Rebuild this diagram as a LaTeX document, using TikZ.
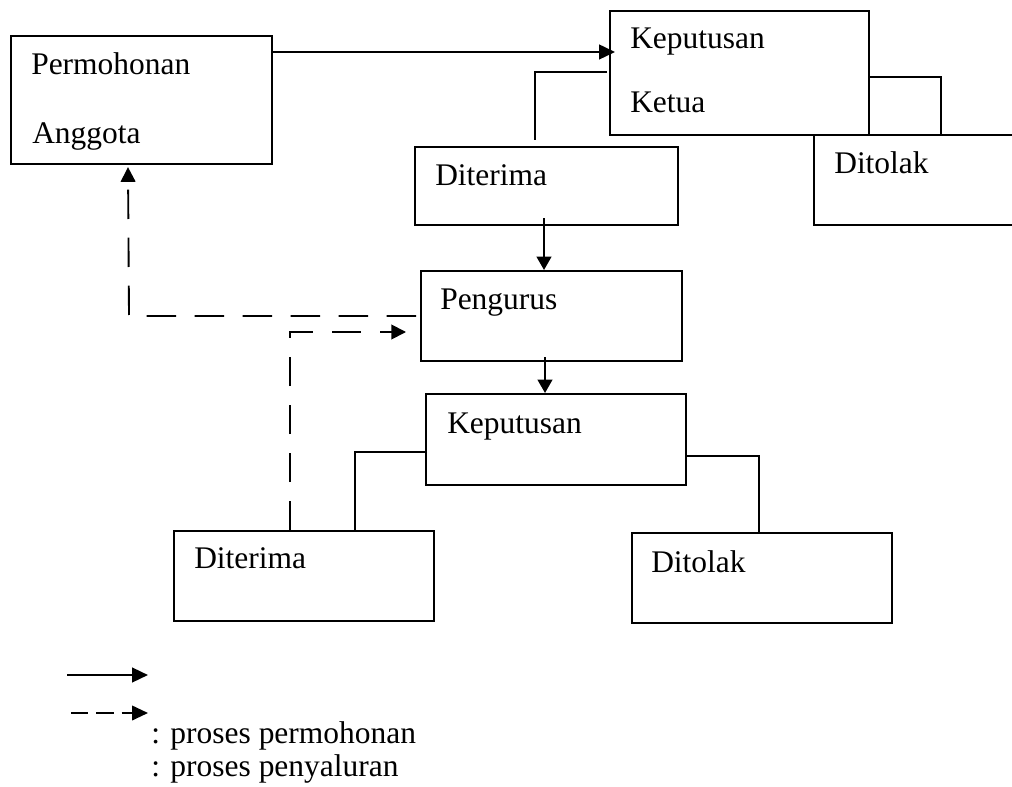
\documentclass[tikz,border=0pt]{standalone}
\usepackage{fontspec}
\setmainfont{Liberation Serif}
\usetikzlibrary{arrows.meta,calc}

\begin{document}
\begin{tikzpicture}[
  x=0.75pt, y=-0.75pt,
  box/.style={draw, line width=1.6pt, inner sep=0pt, anchor=north west},
  lbl/.style={anchor=base west, inner sep=0pt, font=\fontsize{23.6pt}{28pt}\selectfont},
  link/.style={line width=1.3pt},
  flow/.style={line width=1.5pt, -{Triangle[length=10pt,width=11pt]}},
  mainflow/.style={line width=1.9pt, -{Triangle[length=12pt,width=11pt]}},
  backflow/.style={line width=1.4pt, dash pattern=on 22pt off 14pt, -{Triangle[length=11pt,width=11pt]}}
]
\useasboundingbox (0,0) rectangle (1012,787);

% boxes
\node[box, minimum width=195.75pt, minimum height=96pt]   (A) at (10,35)  {};
\node[box, minimum width=194.25pt, minimum height=93pt]   (B) at (609,10) {};
\node[box, minimum width=197.25pt, minimum height=58.5pt] (C) at (414,146) {};
\node[box, minimum width=187.5pt,  minimum height=67.5pt] (D) at (813,134) {};
\node[box, minimum width=195.75pt, minimum height=67.5pt] (E) at (420,270) {};
\node[box, minimum width=195pt,    minimum height=68.25pt] (F) at (425,393) {};
\node[box, minimum width=195pt,    minimum height=67.5pt] (G) at (173,530) {};
\node[box, minimum width=195pt,    minimum height=67.5pt] (H) at (631,532) {};

% box texts
\node[lbl] (tA1) at (31,75)   {Permohonan};
\node[lbl] (tA2) at (32,144)  {Anggota};
\node[lbl] (tB1) at (630,49)  {Keputusan};
\node[lbl] (tB2) at (630,113) {Ketua};
\node[lbl] (tC)  at (435,186) {Diterima};
\node[lbl] (tD)  at (834,174) {Ditolak};
\node[lbl] (tE)  at (440,310) {Pengurus};
\node[lbl] (tF)  at (447,433) {Keputusan};
\node[lbl] (tG)  at (194,568) {Diterima};
\node[lbl] (tH)  at (651,572) {Ditolak};

% request to chairman
\draw[mainflow] ($(A.north east)+(0,17)$) -- ($(B.north west)+(6,42)$);

% chairman decision branches
\draw[link] ($(B.north west)+(-2,62)$) -| ($(C.north west)+(121,-6)$);
\draw[link] ($(B.north east)+(0,67)$) -| ($(D.north west)+(128,0)$);

% accepted -> board -> decision
\draw[flow] ($(C.south west)+(130,-8)$) -- ($(E.north west)+(124,0)$);
\draw[flow] ($(E.south west)+(125,-5)$) -- ($(F.north west)+(120,0)$);

% board decision branches
\draw[link] ($(F.north west)+(2,59)$) -| ($(G.north west)+(182,0)$);
\draw[link] ($(F.north east)+(0,63)$) -| ($(H.north west)+(128,0)$);

% distribution flows
\draw[backflow] ($(E.north west)+(-4,46)$) -- (129,316) -- ($(A.south west)+(118,2)$);
\draw[backflow] ($(G.north west)+(117,0)$) |- ($(E.north west)+(-14,62)$);

% legend
\coordinate (l1s) at (67,675);
\coordinate (l1e) at (148,675);
\coordinate (l2s) at (71,713);
\coordinate (l2e) at (148,713);
\draw[line width=1.8pt, -{Triangle[length=12pt,width=11pt]}] (l1s) -- (l1e);
\draw[line width=1.4pt, dash pattern=on 13pt off 6pt, -{Triangle[length=12pt,width=11pt]}] (l2s) -- (l2e);
\node[lbl] (k1) at (151,743) {: proses permohonan};
\node[lbl] (k2) at (151,776) {: proses penyaluran};
\end{tikzpicture}
\end{document}
